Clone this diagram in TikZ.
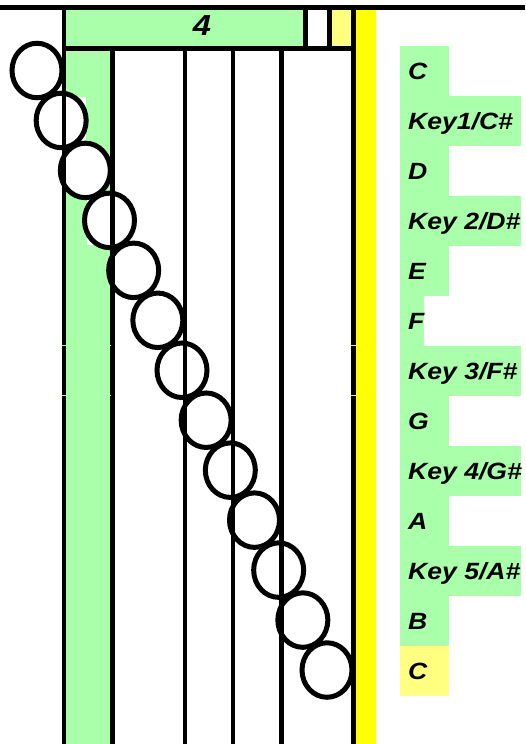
\documentclass[tikz,border=0pt]{standalone}
\usepackage{fontspec}
\usetikzlibrary{shapes.geometric}
\newfontfamily\labfont[FakeStretch=1.13]{Liberation Sans}
\definecolor{keygreen}{HTML}{AAFFAA}
\definecolor{paleyellow}{HTML}{FFFF80}
\definecolor{barYellow}{HTML}{FFFF00}
\tikzset{
  grid line/.style={line width=4.6pt, black},
  hole/.style={ellipse, draw=black, fill=white, line width=5pt,
    minimum width=50pt, minimum height=54.5pt, inner sep=0pt},
  note label/.style={anchor=base west, inner sep=0pt,
    font=\labfont\bfseries\itshape\fontsize{23.5}{28}\selectfont},
  tick/.style={line width=0.8pt},
}
\begin{document}
\begin{tikzpicture}[x=1pt, y=-1pt]
  \useasboundingbox (0,0) rectangle (525,744);
  \fill[white] (0,0) rectangle (525,744);

  % coloured fields
  \fill[keygreen] (66,10) rectangle (303,46);
  \fill[paleyellow] (332,10) rectangle (351,46);
  \fill[keygreen] (66,51) rectangle (110,744);
  \fill[barYellow] (356,10) rectangle (376,744);

  % note labels with their backgrounds
  \fill[keygreen] (400,46) rectangle (449,96);
  \fill[keygreen] (400,96) rectangle (521,146);
  \fill[keygreen] (400,146) rectangle (449,196);
  \fill[keygreen] (400,196) rectangle (521,246);
  \fill[keygreen] (400,246) rectangle (449,296);
  \fill[keygreen] (400,296) rectangle (424,346);
  \fill[keygreen] (400,346) rectangle (521,396);
  \fill[keygreen] (400,396) rectangle (449,446);
  \fill[keygreen] (400,446) rectangle (521,496);
  \fill[keygreen] (400,496) rectangle (449,546);
  \fill[keygreen] (400,546) rectangle (521,596);
  \fill[keygreen] (400,596) rectangle (449,646);
  \fill[paleyellow] (400,646) rectangle (449,696);

  \foreach \t [count=\i from 0] in {C,Key1/C\#,D,Key 2/D\#,E,F,Key 3/F\#,G,Key 4/G\#,A,Key 5/A\#,B,C}
    \node[note label] (l\i) at (408,{79.5+50*\i}) {\t};

  \node[anchor=base, inner sep=0pt,
        font=\labfont\bfseries\itshape\fontsize{29}{34}\selectfont]
        (num) at (202,35) {4};

  % white patches behind two of the holes
  \fill[white] (66,97) rectangle (86,148);
  \fill[white] (87,193) rectangle (110,245);

  % diagonal row of holes
  \foreach \i in {0,...,12}
    \node[hole] (c\i) at ({37+24.1667*\i},{70.5+49.96*\i}) {};

  % ruling
  \draw[grid line] (0,7.5) -- (525,7.5);
  \draw[grid line] (62,48.5) -- (356,48.5);
  \draw[grid line] (64,5) -- (64,744);
  \draw[grid line] (305.5,5) -- (305.5,48.5);
  \draw[grid line] (329.5,5) -- (329.5,48.5);
  \draw[grid line] (353.5,5) -- (353.5,744);
  \foreach \x in {112.5,185,233,281.5}
    \draw[grid line] (\x,48.5) -- (\x,744);

  % faint row marks
  \foreach \y in {345,395} {
    \draw[tick, keygreen] (62,\y) -- (111,\y);
    \draw[tick, barYellow] (351,\y) -- (356,\y);
  }
\end{tikzpicture}
\end{document}
